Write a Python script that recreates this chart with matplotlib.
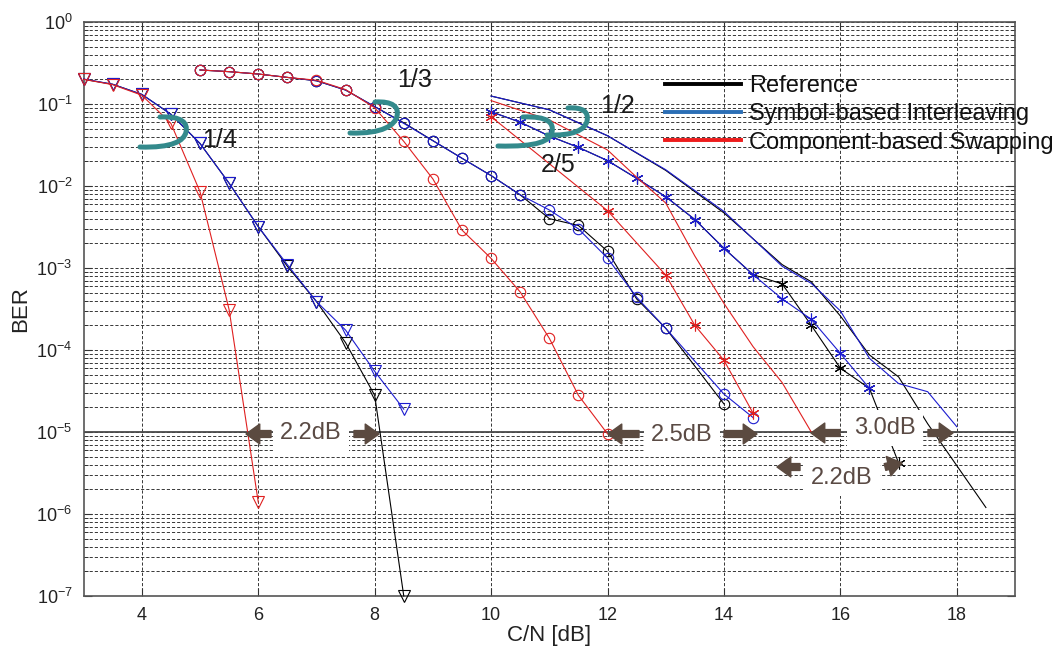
import numpy as np
import matplotlib
matplotlib.use('Agg')
import matplotlib.pyplot as plt
from matplotlib.lines import Line2D
from matplotlib.patches import FancyArrowPatch, PathPatch
from matplotlib.path import Path
from matplotlib.ticker import LogFormatterSciNotation, NullFormatter, FixedLocator

plt.rcParams['font.family'] = ['Liberation Sans', 'DejaVu Sans']
plt.rcParams['mathtext.fontset'] = 'custom'
plt.rcParams['mathtext.rm'] = 'Liberation Sans'
plt.rcParams['mathtext.it'] = 'Liberation Sans'

# ---------------- data ----------------
# rate 1/4 (triangles)
ref14_x = [3, 3.5, 4, 4.5, 5, 5.5, 6, 6.5, 7, 7.5, 8, 8.5]
ref14_y = [0.20, 0.174, 0.131, 0.075, 0.033, 0.0108, 0.0032, 0.00105, 3.9e-4, 1.23e-4, 2.8e-5, 1.0e-7]
sym14_x = [3, 3.5, 4, 4.5, 5, 5.5, 6, 6.5, 7, 7.5, 8, 8.5]
sym14_y = [0.202, 0.174, 0.131, 0.075, 0.033, 0.0108, 0.0032, 0.0011, 3.9e-4, 1.75e-4, 5.5e-5, 1.9e-5]
comp14_x = [3, 3.5, 4, 4.5, 5, 5.5, 6]
comp14_y = [0.20, 0.172, 0.128, 0.058, 0.0085, 3.1e-4, 1.4e-6]

# rate 1/3 (circles)
ref13_x = [5, 5.5, 6, 6.5, 7, 7.5, 8, 8.5, 9, 9.5, 10, 10.5, 11, 11.5, 12, 12.5, 13, 14]
ref13_y = [0.26, 0.248, 0.232, 0.211, 0.192, 0.148, 0.093, 0.059, 0.0357, 0.0218, 0.0134,
           0.0078, 0.0040, 0.0033, 0.0016, 4.2e-4, 1.84e-4, 2.2e-5]
sym13_x = [5, 5.5, 6, 6.5, 7, 7.5, 8, 8.5, 9, 9.5, 10, 10.5, 11, 11.5, 12, 12.5, 13, 14, 14.5]
sym13_y = [0.26, 0.248, 0.232, 0.211, 0.192, 0.148, 0.093, 0.058, 0.0357, 0.0218, 0.0134,
           0.0078, 0.0051, 0.0030, 0.00132, 4.4e-4, 1.84e-4, 2.9e-5, 1.5e-5]
comp13_x = [5, 5.5, 6, 6.5, 7, 7.5, 8, 8.5, 9, 9.5, 10, 10.5, 11, 11.5, 12]
comp13_y = [0.26, 0.248, 0.232, 0.211, 0.195, 0.15, 0.09, 0.035, 0.0122, 0.0029, 0.00131,
            5.1e-4, 1.39e-4, 2.8e-5, 9.5e-6]

# rate 2/5 (asterisks)
ref25_x = [10, 10.5, 11, 11.5, 12, 12.5, 13, 13.5, 14, 14.5, 15, 15.5, 16, 16.5, 17]
ref25_y = [0.0805, 0.060, 0.0407, 0.0296, 0.0204, 0.0124, 0.0074, 0.0039, 0.00174, 8.3e-4,
           6.4e-4, 2.0e-4, 6.0e-5, 3.4e-5, 4.2e-6]
sym25_x = [10, 10.5, 11, 11.5, 12, 12.5, 13, 13.5, 14, 14.5, 15, 15.5, 16, 16.5]
sym25_y = [0.0805, 0.060, 0.0407, 0.0296, 0.0204, 0.0124, 0.0074, 0.0039, 0.00174, 8.3e-4,
           4.2e-4, 2.37e-4, 9.1e-5, 3.4e-5]
comp25_x = [10, 12, 13, 13.5, 14, 14.5]
comp25_y = [0.070, 0.0050, 8.2e-4, 2.0e-4, 7.5e-5, 1.7e-5]

# rate 1/2 (lines only)
ref12_x = [10, 11, 12, 13, 14, 15, 15.5, 16, 16.5, 17, 17.5, 18.5]
ref12_y = [0.125, 0.085, 0.041, 0.0155, 0.0047, 0.0011, 6.8e-4, 2.6e-4, 8.7e-5, 4.7e-5, 1.26e-5, 1.2e-6]
sym12_x = [10, 11, 12, 13, 14, 15, 15.5, 16, 16.5, 17, 17.5, 18]
sym12_y = [0.125, 0.085, 0.041, 0.0158, 0.0049, 0.00105, 6.5e-4, 3.0e-4, 7.9e-5, 3.9e-5, 3.1e-5, 1.16e-5]
comp12_x = [10, 11, 12, 12.5, 13, 13.5, 14, 14.5, 15, 15.5]
comp12_y = [0.11, 0.064, 0.0275, 0.0128, 0.0062, 0.0014, 3.7e-4, 1.1e-4, 4.0e-5, 1.0e-5]

legend_labels = ['Reference', 'Symbol-based Interleaving', 'Component-based Swapping']
x_ticks = [4, 6, 8, 10, 12, 14, 16, 18]
y_ticks = [1e-7, 1e-6, 1e-5, 1e-4, 1e-3, 1e-2, 1e-1, 1]
y_minor_ticks = [m * d for d in [1e-7, 1e-6, 1e-5, 1e-4, 1e-3, 1e-2, 1e-1] for m in range(2, 10)]

# ---------------- figure ----------------
W, H = 1064, 651
fig = plt.figure(figsize=(W / 100, H / 100), dpi=100)
L, R, T, B = 83.6, 1015, 22, 596
ax = fig.add_axes([L / W, 1 - B / H, (R - L) / W, (B - T) / H])

def fx(x, y):
    return (x / W, 1 - y / H)

C_REF = '#000000'
C_SYM = '#1c1cd0'
C_COMP = '#e02020'
ast = (6, 2, 0)
lw = 0.8

series = [
    (ref14_x, ref14_y, C_REF, 'v', 9), (sym14_x, sym14_y, C_SYM, 'v', 9), (comp14_x, comp14_y, C_COMP, 'v', 9),
    (ref13_x, ref13_y, C_REF, 'o', 7.5), (sym13_x, sym13_y, C_SYM, 'o', 7.5), (comp13_x, comp13_y, C_COMP, 'o', 7.5),
    (ref25_x, ref25_y, C_REF, ast, 8.5), (sym25_x, sym25_y, C_SYM, ast, 8.5), (comp25_x, comp25_y, C_COMP, ast, 8.5),
    (ref12_x, ref12_y, C_REF, None, 0), (sym12_x, sym12_y, C_SYM, None, 0), (comp12_x, comp12_y, C_COMP, None, 0),
]
for xs, ys, c, m, ms in series:
    ax.plot(xs, ys, color=c, lw=lw, marker=m, ms=ms, mfc='none', mec=c, mew=0.8, clip_on=False, zorder=3)

ax.axhline(1e-5, color='#4a4a4a', lw=1.3, zorder=2.5)

ax.set_yscale('log')
ax.set_xlim(3, 19)
ax.set_ylim(1e-7, 1)
ax.xaxis.set_major_locator(FixedLocator(x_ticks))
ax.yaxis.set_major_locator(FixedLocator(y_ticks))
ax.yaxis.set_major_formatter(LogFormatterSciNotation())
ax.yaxis.set_minor_locator(FixedLocator(y_minor_ticks))
ax.yaxis.set_minor_formatter(NullFormatter())

grid_kw = dict(color='#2a2a2a', lw=0.65, linestyle=(0, (3.5, 2.2)))
ax.grid(True, which='major', axis='both', **grid_kw)
ax.grid(True, which='minor', axis='y', **grid_kw)
ax.set_axisbelow(True)

ax.tick_params(which='both', direction='in', top=True, right=True, colors='#333333',
               labelsize=13, labelcolor='#222222')
ax.tick_params(which='major', length=6, width=0.8)
ax.tick_params(which='minor', length=3, width=0.7)
ax.tick_params(axis='x', pad=8)
ax.tick_params(axis='y', pad=8)
for s in ax.spines.values():
    s.set_color('#555555')
    s.set_linewidth(1.2)

ax.set_xlabel('C/N [dB]', fontsize=16, color='#222222')
ax.set_ylabel('BER', fontsize=16, color='#222222')
ax.xaxis.set_label_coords(0.5, -0.068)
ax.xaxis.label.set_va('center')
ax.yaxis.set_label_coords(-0.068, 0.5)
ax.yaxis.label.set_va('center')

handles = [Line2D([], [], color=C_REF, lw=2.8),
           Line2D([], [], color='#2a6eb5', lw=2.8),
           Line2D([], [], color='#ee1c1c', lw=2.8)]
leg = ax.legend(handles, legend_labels, loc='upper left', bbox_to_anchor=fx(665, 75),
                bbox_transform=fig.transFigure, frameon=False, fontsize=17,
                handlelength=3.2, handletextpad=0.35, labelspacing=0.27,
                borderpad=0, borderaxespad=0)
for t in leg.get_texts():
    t.set_color('#111111')

# rate labels
for txt, (px, py) in [('1/4', (219.7, 140)), ('1/3', (415, 80)),
                      ('1/2', (618, 106)), ('2/5', (558, 165))]:
    fig.text(*fx(px, py), txt, fontsize=18, color='#1a1a1a', ha='center', va='center')

# braces
TEAL = '#338a8c'
def brace(x0, yt, xr, ym, xb, yb):
    pts = [(x0, yt), (xr - 4, yt - 1), (xr + 2, ym - 9), (xr, ym),
           (xr - 2, ym + 9), (xr - 14, yb + 1), (xb, yb)]
    codes = [Path.MOVETO] + [Path.CURVE4] * 6
    verts = [fx(a, b) for a, b in pts]
    p = PathPatch(Path(verts, codes), fill=False, edgecolor=TEAL, lw=3.6,
                  capstyle='round', transform=fig.transFigure, zorder=6)
    fig.add_artist(p)

brace(160, 117, 186, 132, 140, 147)
brace(375, 102, 397, 116, 350, 133)
brace(523, 117, 552, 132, 498, 146)
brace(568, 108, 587, 121, 547, 135)

# dB annotations
BROWN = '#5b4a40'
def arrow(x1, y1, x2, y2):
    a = FancyArrowPatch(fx(x1, y1), fx(x2, y2), transform=fig.transFigure,
                        arrowstyle='simple,head_length=0.9,head_width=1.3,tail_width=0.45',
                        mutation_scale=11, color=BROWN, zorder=7, shrinkA=0, shrinkB=0)
    fig.add_artist(a)

def dblabel(txt, px, py):
    fig.text(*fx(px, py), txt, fontsize=17, color='#5a4a44', ha='center', va='center',
             bbox=dict(facecolor='white', edgecolor='none', pad=5), zorder=6)

dblabel('2.2dB', 311, 433)
arrow(271, 434, 246, 434)
arrow(354, 434, 379, 434)

dblabel('2.5dB', 682, 435)
arrow(639, 434, 608, 434)
arrow(724, 434, 757, 434)

dblabel('3.0dB', 885, 428)
arrow(840, 433, 811, 433)
arrow(928, 433, 953, 433)

dblabel('2.2dB', 842, 478)
arrow(800, 467, 777, 467)
arrow(885, 467, 902, 463)

fig.savefig('out.png', dpi=100)
